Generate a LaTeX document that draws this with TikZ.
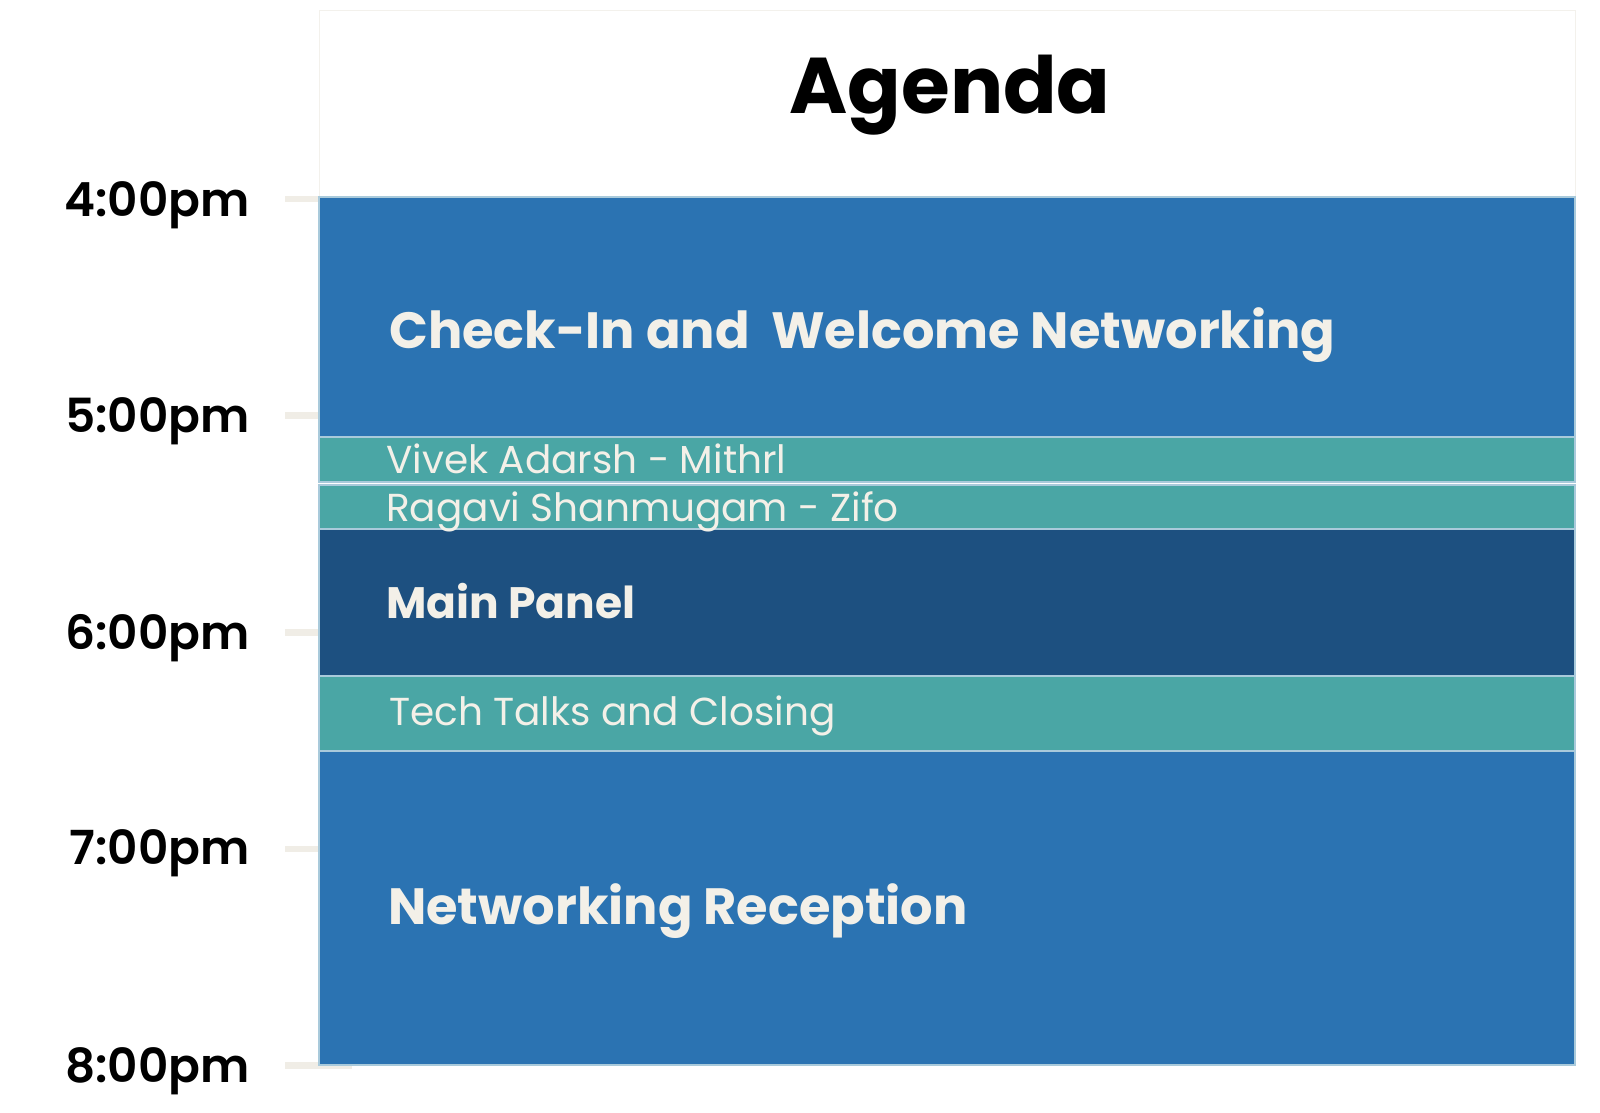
\documentclass[tikz,border=0pt]{standalone}
\usepackage{fontspec}
\setmainfont{Poppins}
\newfontfamily\popsemi{Poppins SemiBold}
\newfontfamily\popbold{Poppins Bold}
\definecolor{blueseg}{HTML}{2B73B2}
\definecolor{tealseg}{HTML}{4AA6A5}
\definecolor{navyseg}{HTML}{1D5080}
\definecolor{creamtxt}{HTML}{F3F0E8}
\definecolor{tickcol}{HTML}{F0EDE6}
\definecolor{hdrline}{HTML}{F3F1EC}
\definecolor{sepline}{HTML}{A9CADB}
\tikzset{
  seg/.style={draw=sepline, line width=1.2pt},
  timelbl/.style={anchor=base east, inner sep=0pt, text=black, font=\popsemi\fontsize{47}{47}\selectfont},
  bigtxt/.style={anchor=base west, inner sep=0pt, text=creamtxt, font=\popbold\fontsize{51}{51}\selectfont},
  midtxt/.style={anchor=base west, inner sep=0pt, text=creamtxt, font=\popbold\fontsize{44}{44}\selectfont},
  smalltxt/.style={anchor=base west, inner sep=0pt, text=creamtxt, font=\fontsize{39}{39}\selectfont},
  tickmark/.style={fill=tickcol, draw=none}
}
\begin{document}
\begin{tikzpicture}[x=1pt,y=-1pt]
\useasboundingbox (0,0) rectangle (1600,1112);
\fill[white] (0,0) rectangle (1600,1112);
% ticks
\foreach \t in {199,415.6,632.3,848.9,1065.5}{
  \fill[tickmark] (285,\t-3.3) rectangle (352,\t+3.3);
}
% header
\draw[hdrline, line width=1pt] (319,10) rectangle (1575,197);
\node[anchor=base, inner sep=0pt, font=\popbold\fontsize{79}{79}\selectfont] (title) at (950,113) {Agenda};
% segments
\draw[seg, fill=blueseg] (319,197) rectangle (1575,437);
\draw[seg, fill=tealseg] (319,437) rectangle (1575,482);
\draw[seg, fill=tealseg] (319,485) rectangle (1575,529);
\draw[seg, fill=navyseg] (319,529) rectangle (1575,676);
\draw[seg, fill=tealseg] (319,676) rectangle (1575,751);
\draw[seg, fill=blueseg] (319,751) rectangle (1575,1065);
% texts
\node[bigtxt] (checkin) at (389,348) {Check-In and\ \ Welcome Networking};
\node[smalltxt] (vivek) at (386,473.3) {Vivek Adarsh - Mithrl};
\node[smalltxt] (ragavi) at (386,521.7) {Ragavi Shanmugam - Zifo};
\node[midtxt] (main) at (386,618) {Main Panel};
\node[smalltxt] (tech) at (389,725.7) {Tech Talks and Closing};
\node[bigtxt] (netrec) at (388,924) {Networking Reception};
% time labels
\node[timelbl] (t4) at (250,216) {4:00pm};
\node[timelbl] (t5) at (250,432.5) {5:00pm};
\node[timelbl] (t6) at (250,649) {6:00pm};
\node[timelbl] (t7) at (250,864) {7:00pm};
\node[timelbl] (t8) at (250,1082) {8:00pm};
\end{tikzpicture}
\end{document}
